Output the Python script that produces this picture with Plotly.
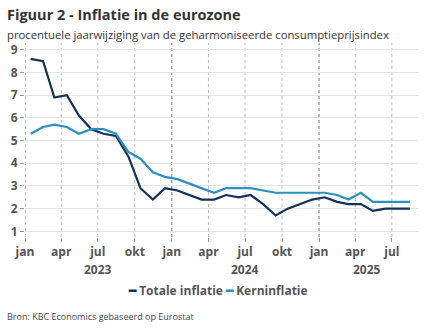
import plotly.graph_objects as go
import pandas as pd

months = pd.date_range("2023-01-01", periods=32, freq="MS") + pd.Timedelta(days=14)
totale = [8.6, 8.5, 6.9, 7.0, 6.1, 5.5, 5.3, 5.2, 4.3, 2.9, 2.4, 2.9,
          2.8, 2.6, 2.4, 2.4, 2.6, 2.5, 2.6, 2.2, 1.7, 2.0, 2.2, 2.4,
          2.5, 2.3, 2.2, 2.2, 1.9, 2.0, 2.0, 2.0]
kern = [5.3, 5.6, 5.7, 5.6, 5.3, 5.5, 5.5, 5.3, 4.5, 4.2, 3.6, 3.4,
        3.3, 3.1, 2.9, 2.7, 2.9, 2.9, 2.9, 2.8, 2.7, 2.7, 2.7, 2.7,
        2.7, 2.6, 2.4, 2.7, 2.3, 2.3, 2.3, 2.3]
series_names = ["Totale inflatie", "Kerninflatie"]
tick_dates = pd.date_range("2023-01-01", "2025-07-01", freq="QS")
tick_labels = ["jan", "apr", "jul", "okt"] * 3
tick_labels = tick_labels[:len(tick_dates)]
years = ["2023", "2024", "2025"]
year_pos = ["2023-07-01", "2024-07-01", "2025-05-01"]

NAVY = "#12315c"
BLUE = "#2b8fc0"
FONT = "Open Sans, Noto Sans, sans-serif"

fig = go.Figure()
fig.add_trace(go.Scatter(x=months, y=totale, mode="lines", name=series_names[0],
                         line=dict(color=NAVY, width=2.2), showlegend=False))
fig.add_trace(go.Scatter(x=months, y=kern, mode="lines", name=series_names[1],
                         line=dict(color=BLUE, width=2.2), showlegend=False))

shapes = []
for d, lab in zip(tick_dates, tick_labels):
    shapes.append(dict(type="line", xref="x", yref="paper", x0=d, x1=d, y0=0, y1=1,
                       line=dict(color="#777777" if lab == "jan" else "#bbbbbb", width=1, dash="dot"),
                       layer="below"))

legend_text = (f"<span style='color:{NAVY}'><b>━</b></span> <b>{series_names[0]}</b> "
               f"<span style='color:{BLUE}'><b>━</b></span> <b>{series_names[1]}</b>")

annotations = [
    dict(text="<b>Figuur 2 - Inflatie in de eurozone</b>", xref="paper", yref="paper",
         x=-0.05, y=1.149, xanchor="left", yanchor="middle", showarrow=False,
         font=dict(size=14.5, color="#333333", family=FONT)),
    dict(text="procentuele jaarwijziging van de geharmoniseerde consumptieprijsindex", xref="paper", yref="paper",
         x=-0.05, y=1.046, xanchor="left", yanchor="middle", showarrow=False,
         font=dict(size=11.3, color="#333333", family=FONT)),
    dict(text="Bron: KBC Economics gebaseerd op Eurostat", xref="paper", yref="paper",
         x=-0.05, y=-0.41, xanchor="left", yanchor="middle", showarrow=False,
         font=dict(size=9, color="#444444", family=FONT)),
    dict(text=legend_text, xref="paper", yref="paper", x=0.49, y=-0.275,
         xanchor="center", yanchor="middle", showarrow=False,
         font=dict(size=12, color="#555555", family=FONT)),
]
for y, p in zip(years, year_pos):
    annotations.append(dict(text=f"<b>{y}</b>", xref="x", yref="paper", x=p, y=-0.17,
                            xanchor="center", yanchor="middle", showarrow=False,
                            font=dict(size=12, color="#555555", family=FONT)))

fig.update_layout(
    width=432, height=334,
    margin=dict(l=25, r=14, t=43, b=97),
    paper_bgcolor="white", plot_bgcolor="white",
    font=dict(family=FONT, color="#555555"),
    showlegend=False,
    shapes=shapes,
    annotations=annotations,
)
fig.update_xaxes(range=["2023-01-01", "2025-09-04"], tickvals=tick_dates,
                 ticktext=[f"<b>{t}</b>" for t in tick_labels],
                 showgrid=False, zeroline=False, showline=False,
                 ticks="outside", ticklen=4, tickcolor="#999999",
                 tickfont=dict(size=12, color="#555555", family=FONT))
fig.update_yaxes(range=[0.75, 9.3], tickvals=list(range(1, 10)),
                 ticktext=[f"<b>{v}</b>" for v in range(1, 10)],
                 showgrid=True, gridcolor="#e3e3e3", gridwidth=1, zeroline=False,
                 showline=False, ticks="outside", ticklen=4, tickcolor="#999999",
                 tickfont=dict(size=12, color="#555555", family=FONT))

fig.write_html("out.html")
